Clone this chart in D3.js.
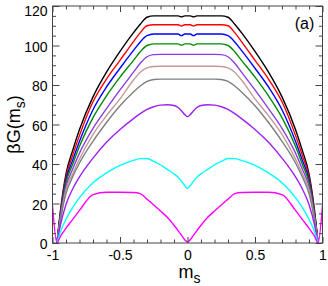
<!DOCTYPE html>
<html>
<head>
<meta charset="utf-8">
<script src="https://cdn.jsdelivr.net/npm/d3@7"></script>
<style>
    body { margin: 0; background: #fff; }
    svg { display: block; font-family: "Liberation Sans", Arial, sans-serif; }
</style>
</head>
<body>
<svg id="chart" width="328" height="286"></svg>
<script>
// magnetization grid (x values shared by all curves)
var mValues = [-1, -0.967, -0.94, -0.9, -0.85, -0.8, -0.7, -0.6, -0.5, -0.4, -0.35, -0.3, -0.25, -0.2, -0.15, -0.1, -0.07, -0.045, -0.02, 0,
    0.02, 0.045, 0.07, 0.1, 0.15, 0.2, 0.25, 0.3, 0.35, 0.4, 0.5, 0.6, 0.7, 0.8, 0.85, 0.9, 0.94, 0.967, 1];

// betaG(m_s) curves, top to bottom
var gBlack = [null, 0, 17, 35, 47, 57.5, 74, 86.5, 97, 106.5, 110.8, 114.3, 115, 115, 115, 115, 115, 114.5, 115, 115,
    115, 114.5, 115, 115, 115, 115, 115, 114.3, 110.8, 106.5, 97, 86.5, 74, 57.5, 47, 35, 17, 0, null];
var gRed = [null, 0, 16, 33.5, 44.5, 54.5, 71.5, 83, 92.5, 102, 106.5, 110, 110.5, 110.5, 110.5, 110.5, 110.5, 109.8, 110.5, 110.5,
    110.5, 109.8, 110.5, 110.5, 110.5, 110.5, 110.5, 110, 106.5, 102, 92.5, 83, 71.5, 54.5, 44.5, 33.5, 16, 0, null];
var gBlue = [null, 0, 15, 32, 42, 51.5, 67.5, 79, 88.5, 97.5, 101.8, 105, 105.8, 105.8, 105.8, 105.8, 105.8, 105, 105.8, 105.8,
    105.8, 105, 105.8, 105.8, 105.8, 105.8, 105.8, 105, 101.8, 97.5, 88.5, 79, 67.5, 51.5, 42, 32, 15, 0, null];
var gGreen = [null, 0, 14.5, 30.5, 40, 49, 63.5, 74.5, 84, 92.5, 96.8, 100, 100.8, 100.8, 100.8, 100.8, 100.8, 100.2, 100.8, 100.8,
    100.8, 100.2, 100.8, 100.8, 100.8, 100.8, 100.8, 100, 96.8, 92.5, 84, 74.5, 63.5, 49, 40, 30.5, 14.5, 0, null];
var gPurple = [null, 0, 13.5, 28.5, 37.5, 45.5, 58, 68, 77.5, 86.5, 91, 94.3, 95.4, 95.5, 95.5, 95.5, 95.5, 95.5, 95.5, 95.5,
    95.5, 95.5, 95.5, 95.5, 95.5, 95.5, 95.4, 94.3, 91, 86.5, 77.5, 68, 58, 45.5, 37.5, 28.5, 13.5, 0, null];
var gRosy = [null, 0, 12.5, 27, 35, 42.5, 55, 64.5, 73, 82.5, 86.5, 88.7, 89.4, 89.5, 89.5, 89.5, 89.5, 89.5, 89.5, 89.5,
    89.5, 89.5, 89.5, 89.5, 89.5, 89.5, 89.4, 88.7, 86.5, 82.5, 73, 64.5, 55, 42.5, 35, 27, 12.5, 0, null];
var gGray = [null, 0, 12, 25, 33.5, 40.5, 51.5, 61, 69.5, 76.5, 79.5, 81.8, 82.8, 83, 83, 83, 83, 83, 83, 83,
    83, 83, 83, 83, 83, 83, 82.8, 81.8, 79.5, 76.5, 69.5, 61, 51.5, 40.5, 33.5, 25, 12, 0, null];
var gViolet = [null, 0, 9.5, 19.5, 27.5, 33.5, 43, 51, 57.5, 63, 65.5, 67.6, 69, 69.8, 70, 69.6, 68.6, 67, 65, 64,
    65, 67, 68.6, 69.6, 70, 69.8, 69, 67.6, 65.5, 63, 57.5, 51, 43, 33.5, 27.5, 19.5, 9.5, 0, null];
var gCyan = [null, 0, 6, 12, 18, 23, 30.5, 35.5, 39.3, 41.8, 42.7, 42.8, 41.3, 39.5, 37.3, 35, 33.3, 31.3, 29, 27.7,
    29, 31.3, 33.3, 35, 37.3, 39.5, 41.3, 42.8, 42.7, 41.8, 39.3, 35.5, 30.5, 23, 18, 12, 6, 0, null];
var gMagenta = [19, 0, 3.5, 7.5, 12, 16.5, 24.5, 25.7, 25.7, 25.6, 25, 22.2, 19.2, 16.2, 13, 9, 6.3, 4, 1.6, 0.5,
    1.6, 4, 6.3, 9, 13, 16.2, 19.2, 22.2, 25, 25.6, 25.7, 25.7, 24.5, 16.5, 12, 7.5, 3.5, 0, 19];

// axis ticks
var xMajorTicks = [-1, -0.5, 0, 0.5, 1];
var xTickLabels = ["-1", "-0.5", "0", "0.5", "1"];
var xMinorTicks = [-0.9, -0.8, -0.7, -0.6, -0.4, -0.3, -0.2, -0.1, 0.1, 0.2, 0.3, 0.4, 0.6, 0.7, 0.8, 0.9];
var yMajorTicks = [0, 20, 40, 60, 80, 100, 120];
var yTickLabels = ["0", "20", "40", "60", "80", "100", "120"];
var yMinorTicks = [5, 10, 15, 25, 30, 35, 45, 50, 55, 65, 70, 75, 85, 90, 95, 105, 110, 115];

var series = [
    {values: gBlack, color: "#000000"},
    {values: gRed, color: "#ff0000"},
    {values: gBlue, color: "#0000ff"},
    {values: gGreen, color: "#008b00"},
    {values: gPurple, color: "#8a3ee0"},
    {values: gRosy, color: "#c49a96"},
    {values: gGray, color: "#7f7f7f"},
    {values: gViolet, color: "#a020f0"},
    {values: gCyan, color: "#00ffff"},
    {values: gMagenta, color: "#ff00ff"}
];

var widthBase = 328;
var heightBase = 286;
var margins = {top: 6, right: 5.5, bottom: 43, left: 52.5};
var axisColor = "#444";

var x = d3.scaleLinear()
    .domain([-1, 1])
    .range([margins.left, widthBase - margins.right]);

var y = d3.scaleLinear()
    .domain([0, 120])
    .range([heightBase - margins.bottom, margins.top]);

var svg = d3.select("#chart");

svg.append("rect")
    .attr("width", widthBase)
    .attr("height", heightBase)
    .attr("fill", "#fff");

svg.append("defs")
    .append("clipPath")
        .attr("id", "clip")
        .append("rect")
            .attr("x", x(-1))
            .attr("y", y(120))
            .attr("width", x(1) - x(-1))
            .attr("height", y(0) - y(120));

var line = d3.line()
    .defined(function(d) { return d[1] != null; })
    .x(function(d) { return x(d[0]); })
    .y(function(d) { return y(d[1]); })
    .curve(d3.curveMonotoneX);

var curves = svg.append("g").attr("clip-path", "url(#clip)");
series.forEach(function(s) {
    curves.append("path")
        .datum(mValues.map(function(m, i) { return [m, s.values[i]]; }))
        .attr("fill", "none")
        .attr("stroke", s.color)
        .attr("stroke-width", 1.4)
        .attr("stroke-linejoin", "round")
        .attr("d", line);
});

// axes, ticks pointing inward on all four sides
function drawAxis(axis, transform, labelled) {
    var g = svg.append("g")
        .attr("transform", transform)
        .call(axis);
    g.select(".domain").remove();
    g.selectAll("line").attr("stroke", axisColor);
    g.selectAll("text")
        .attr("fill", "#000")
        .style("font-size", labelled ? "14px" : "0px");
    return g;
}

var bottom = "translate(0," + y(0) + ")";
var top_ = "translate(0," + y(120) + ")";
var left = "translate(" + x(-1) + ",0)";
var right = "translate(" + x(1) + ",0)";

drawAxis(d3.axisBottom(x).tickValues(xMajorTicks).tickSizeInner(-6).tickSizeOuter(0).tickPadding(7)
    .tickFormat(function(d, i) { return xTickLabels[i]; }), bottom, true);
drawAxis(d3.axisBottom(x).tickValues(xMinorTicks).tickSize(-3.5).tickFormat(""), bottom, false);
drawAxis(d3.axisTop(x).tickValues(xMajorTicks).tickSizeInner(-6).tickSizeOuter(0).tickFormat(""), top_, false);
drawAxis(d3.axisTop(x).tickValues(xMinorTicks).tickSize(-3.5).tickFormat(""), top_, false);

var yAxisG = drawAxis(d3.axisLeft(y).tickValues(yMajorTicks).tickSizeInner(-7).tickSizeOuter(0).tickPadding(5)
    .tickFormat(function(d, i) { return yTickLabels[i]; }), left, true);
// labels sit slightly below their ticks; the top one is pushed inside the picture
yAxisG.selectAll("text")
    .attr("y", function(d) { return d === 120 ? 5.5 : 1.5; });
drawAxis(d3.axisLeft(y).tickValues(yMinorTicks).tickSize(-3.5).tickFormat(""), left, false);
drawAxis(d3.axisRight(y).tickValues(yMajorTicks).tickSizeInner(-7).tickSizeOuter(0).tickFormat(""), right, false);
drawAxis(d3.axisRight(y).tickValues(yMinorTicks).tickSize(-3.5).tickFormat(""), right, false);

svg.append("rect")
    .attr("x", x(-1))
    .attr("y", y(120))
    .attr("width", x(1) - x(-1))
    .attr("height", y(0) - y(120))
    .attr("fill", "none")
    .attr("stroke", axisColor);

// panel label
svg.append("text")
    .attr("x", 304.5)
    .attr("y", 29)
    .attr("text-anchor", "middle")
    .style("font-size", "16px")
    .text("(a)");

// x axis title
var xTitle = svg.append("text")
    .attr("x", (x(-1) + x(1)) / 2 + 2)
    .attr("y", 278)
    .attr("text-anchor", "middle")
    .style("font-size", "18px");
xTitle.append("tspan").text("m");
xTitle.append("tspan").attr("dy", 5).style("font-size", "14px").text("s");

// y axis title
var yTitle = svg.append("text")
    .attr("transform", "translate(20," + ((y(0) + y(120)) / 2) + ") rotate(-90)")
    .attr("text-anchor", "middle")
    .style("font-size", "18px");
yTitle.append("tspan").text("βG(m");
yTitle.append("tspan").attr("dy", 5).style("font-size", "14px").text("s");
yTitle.append("tspan").attr("dy", -5).text(")");
</script>
</body>
</html>
